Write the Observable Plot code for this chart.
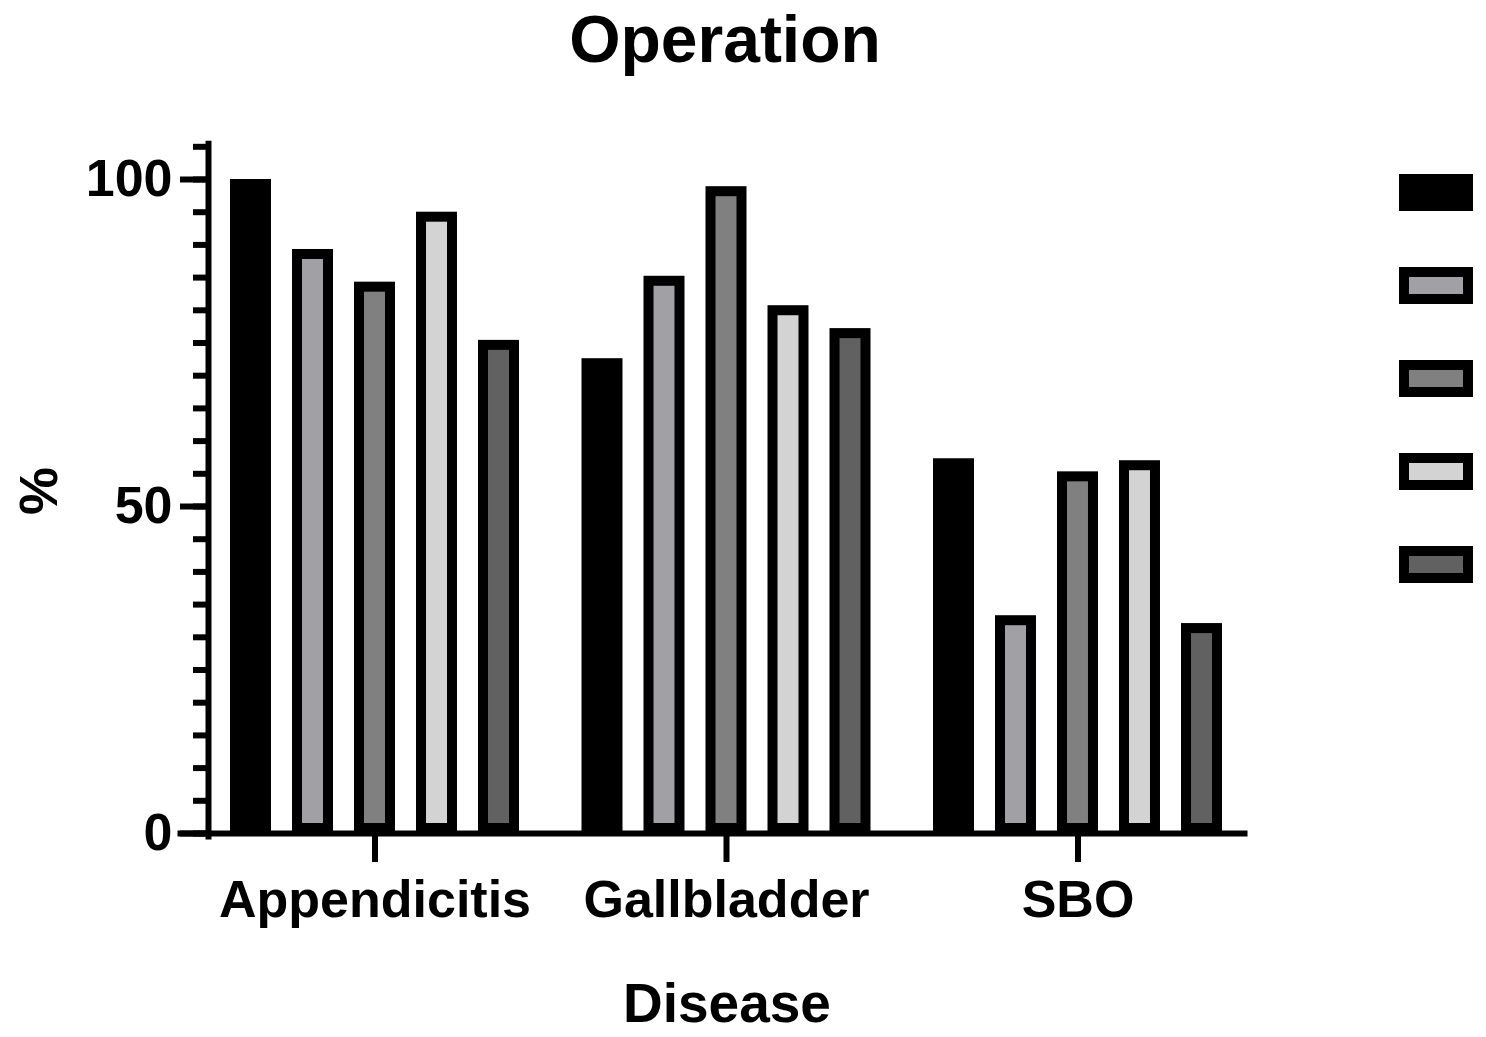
<!DOCTYPE html>
<html>
<head>
<meta charset="utf-8">
<script src="https://cdn.jsdelivr.net/npm/d3@7"></script>
<script src="https://cdn.jsdelivr.net/npm/@observablehq/plot@0.6"></script>
<style>
  html, body { margin: 0; padding: 0; background: #fff; }
  #wrap { position: relative; width: 1486px; height: 1037px; overflow: hidden;
          font-family: "Liberation Sans", Arial, sans-serif; font-weight: bold; color: #000; }
  #chart { position: absolute; left: 0; top: 0; }
  .lbl { position: absolute; line-height: 1; white-space: nowrap; }
  .sw { position: absolute; box-sizing: border-box; border: 10px solid #000; }
</style>
</head>
<body>
<div id="wrap">
  <div id="chart"></div>
  <div class="lbl" id="title" style="left:0; width:1450px; text-align:center; top:6px; font-size:66px;">Operation</div>
  <div class="lbl" id="ylab" style="left:38px; top:491px; font-size:54px; transform:translate(-50%,-50%) rotate(-90deg);">%</div>
  <div class="lbl" id="xlab" style="left:0; width:1454px; text-align:center; top:976px; font-size:55px;">Disease</div>
  <div id="legend"></div>
</div>
<script>
// ---- data ----
const diseases = ["Appendicitis", "Gallbladder", "SBO"];
const seriesNames = ["Group 1", "Group 2", "Group 3", "Group 4", "Group 5"];
const group1 = [100, 72.6, 57.3];
const group2 = [89.3, 85.2, 33.3];
const group3 = [84.3, 98.9, 55.3];
const group4 = [95.0, 80.7, 57.0];
const group5 = [75.4, 77.2, 32.1];
const seriesColors = ["#000000", "#a1a0a5", "#808080", "#d3d3d3", "#616161"];
const yTicksMajor = [0, 50, 100];
const yTicksMinor = d3.range(0, 106, 5);

const seriesValues = [group1, group2, group3, group4, group5];
const data = [];
diseases.forEach((d, i) => {
  seriesNames.forEach((s, j) => {
    data.push({disease: d, series: s, value: seriesValues[j][i]});
  });
});

const plot = Plot.plot({
  width: 1486,
  height: 1037,
  marginLeft: 208,
  marginRight: 242,
  marginTop: 146.3,
  marginBottom: 204,
  style: {fontFamily: "Liberation Sans, Arial, sans-serif", fontWeight: "bold", fontSize: "52px", color: "#000", background: "transparent"},
  fx: {domain: diseases, paddingInner: 0.0526, paddingOuter: 0, round: false, axis: null, label: null},
  x: {domain: seriesNames, paddingInner: 0.339, paddingOuter: 0.355, round: false, axis: null},
  y: {domain: [0, 105], axis: null},
  color: {domain: seriesNames, range: seriesColors},
  marks: [
    Plot.barY(data, {fx: "disease", x: "series", y: "value", fill: "series",
      stroke: "#000", strokeWidth: 10, inset: 5}),
    Plot.axisY(yTicksMinor, {tickSize: 15, strokeWidth: 6, tickFormat: () => "", label: null}),
    Plot.axisY(yTicksMajor, {tickSize: 28, tickPadding: 8, strokeWidth: 6, fontSize: 52, fontWeight: "bold", label: null}),
    Plot.axisFx({anchor: "bottom", tickSize: 29, tickPadding: 18, strokeWidth: 6, fontSize: 52, fontWeight: "bold", label: null}),
    Plot.frame({anchor: "bottom", facet: "super", insetLeft: -28, strokeWidth: 6}),
    Plot.frame({anchor: "left", facet: "super", insetTop: -3, insetBottom: -3, strokeWidth: 6})
  ]
});
document.getElementById("chart").appendChild(plot);

// ---- legend (no labels, as in the reference) ----
const legend = d3.select("#legend");
seriesNames.forEach((s, i) => {
  legend.append("div")
    .attr("class", "sw")
    .style("left", "1399px")
    .style("top", (174 + i * 93) + "px")
    .style("width", "74px")
    .style("height", "37px")
    .style("background", seriesColors[i]);
});
</script>
</body>
</html>
